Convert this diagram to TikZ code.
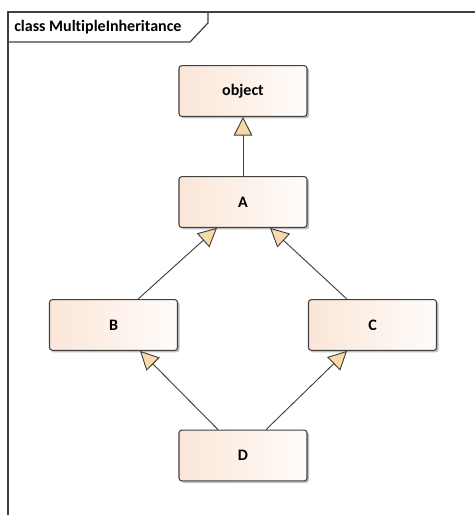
\documentclass[tikz,border=0pt]{standalone}
\usepackage{fontspec}
\setmainfont{Carlito}[Ligatures=NoCommon]
\usetikzlibrary{arrows.meta,shadows}
\definecolor{boxleft}{HTML}{FAE6D8}
\definecolor{boxright}{HTML}{FFFCFA}
\definecolor{boxline}{HTML}{404040}
\definecolor{tipfill}{HTML}{F8D9A8}
\tikzset{
  cls/.style={draw=boxline, line width=0.8pt, rounded corners=2pt,
    left color=boxleft, right color=boxright,
    minimum width=96pt, minimum height=38pt, inner sep=0pt,
    font=\bfseries\fontsize{12}{14}\selectfont,
    drop shadow={shadow xshift=1.5pt, shadow yshift=-1.5pt, opacity=0.25, fill=black}},
  gen/.style={draw=boxline, line width=0.7pt,
    -{Triangle[open, fill=tipfill, length=14pt, width=14pt, line width=0.7pt]}},
  frameline/.style={draw=black!75, line width=0.9pt}
}
\begin{document}
\begin{tikzpicture}[x=0.75pt, y=-0.75pt]
\useasboundingbox (0,0) rectangle (475,515);
% diagram frame and its name tab
\draw[frameline] (475,12) -- (8,12) -- (8,515);
\draw[frameline] (8,42) -- (190,42) -- (208,23) -- (208,12);
\node[anchor=west, font=\bfseries\fontsize{12}{14}\selectfont, inner sep=0pt] (title) at (14,27) {class MultipleInheritance};
% classes
\node[cls] (object) at (243,91) {object};
\node[cls] (A) at (243,202) {A};
\node[cls] (B) at (113.5,325) {B};
\node[cls] (C) at (372.5,325) {C};
\node[cls] (D) at (243,455.5) {D};
% generalizations
\draw[gen] (A.north) -- (object.south);
\draw[gen] (B.north -| 138,0) -- (A.south -| 217,0);
\draw[gen] (C.north -| 347,0) -- (A.south -| 270,0);
\draw[gen] (D.north -| 218,0) -- (B.south -| 140,0);
\draw[gen] (D.north -| 266,0) -- (C.south -| 347,0);
\end{tikzpicture}
\end{document}
